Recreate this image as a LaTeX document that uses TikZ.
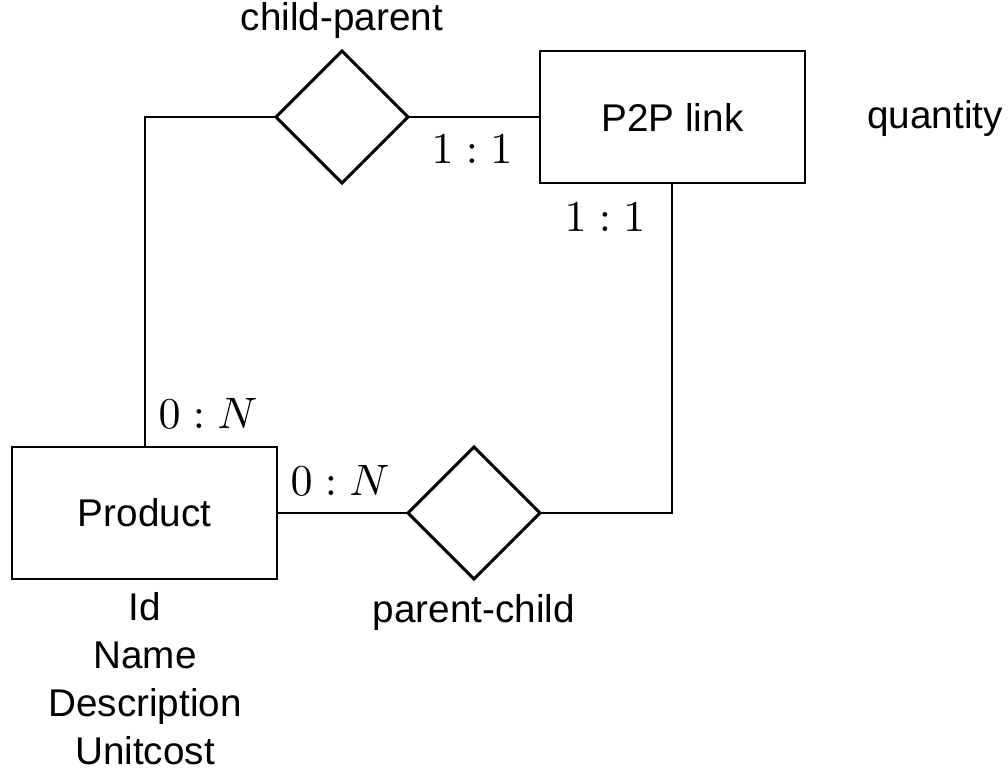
\documentclass[tikz,border=0pt]{standalone}
\usepackage{fontspec}
\setmainfont{Liberation Sans}
\usetikzlibrary{shapes.geometric}
\newcommand{\cardtxt}[1]{\scalebox{3.3}{$#1$}}
\begin{document}
\begin{tikzpicture}[x=0.75pt,y=-0.75pt,
  every node/.style={inner sep=0pt,outer sep=0pt},
  lbl/.style={font=\fontsize{29}{36}\selectfont,align=center},
  entity/.style={draw,line width=2.2pt,minimum width=265*0.75pt,minimum height=132*0.75pt,font=\fontsize{29}{36}\selectfont},
  rel/.style={draw,line width=2.2pt,diamond,aspect=1,minimum width=132*0.75pt,minimum height=132*0.75pt},
  conn/.style={line width=2.2pt}]
\useasboundingbox (0,0) rectangle (1008,779);
\node[entity] (p2p) at (672.5,117) {P2P link};
\node[entity] (prod) at (144.5,513) {Product};
\node[rel] (cp) at (342,117) {};
\node[rel] (pc) at (474,513) {};
\coordinate (c1) at (145,117);
\coordinate (c2) at (672,513);
\node[lbl] (cpl) at (342,20) {child-parent};
\node[lbl] (pcl) at (474,612) {parent-child};
\node[lbl] (qty) at (935,118) {quantity};
\node[lbl] (attr) at (145,679) {Id\\Name\\Description\\Unitcost};
\draw[conn] (cp.west) -- (c1) -- (prod.north -| c1);
\draw[conn] (cp.east) -- (p2p.west);
\draw[conn] (p2p.south -| c2) -- (c2) -- (pc.east);
\draw[conn] (prod.east) -- (pc.west);
\node (k1) at (472,149) {\cardtxt{1:1}};
\node (k2) at (605,217) {\cardtxt{1:1}};
\node (k3) at (208,413) {\cardtxt{0:N}};
\node (k4) at (340,480) {\cardtxt{0:N}};
\end{tikzpicture}
\end{document}
